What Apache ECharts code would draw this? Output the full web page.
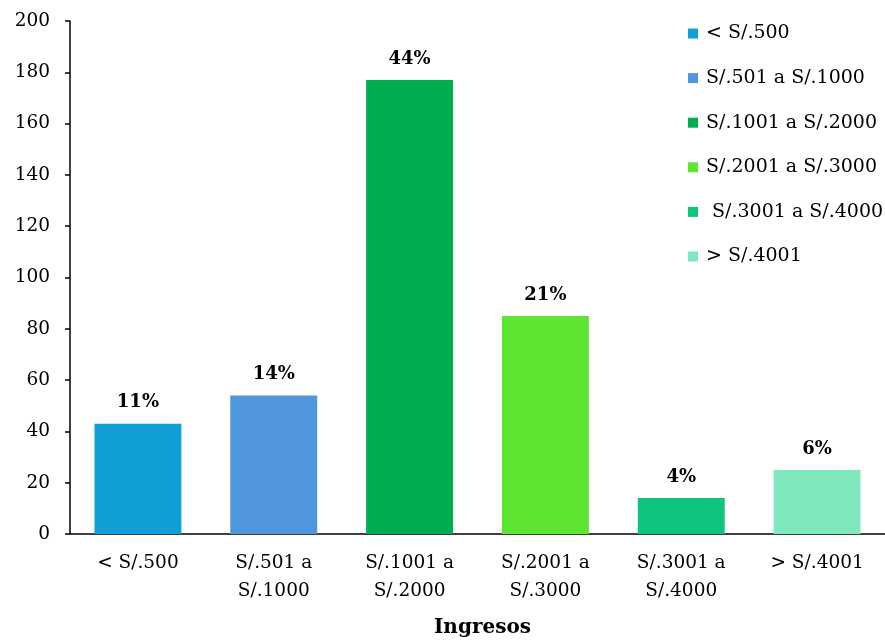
<!DOCTYPE html>
<html>
<head>
<meta charset="utf-8">
<script src="https://cdn.jsdelivr.net/npm/echarts@6/dist/echarts.min.js"></script>
<style>html,body{margin:0;padding:0;background:#fff;}#c{width:885px;height:641px;}</style>
</head>
<body>
<div id="c"></div>
<script>
var categories = ['< S/.500', 'S/.501 a\nS/.1000', 'S/.1001 a\nS/.2000', 'S/.2001 a\nS/.3000', 'S/.3001 a\nS/.4000', '> S/.4001'];
var legendNames = ['< S/.500', 'S/.501 a S/.1000', 'S/.1001 a S/.2000', 'S/.2001 a S/.3000', ' S/.3001 a S/.4000', '> S/.4001'];
var values = [43, 54, 177, 85, 14, 25];
var percentLabels = ['11%', '14%', '44%', '21%', '4%', '6%'];
var colors = ['#119FD8', '#4F96DB', '#00AE4F', '#5CE531', '#0EC47C', '#80E8BD'];
var yTicks = [0, 20, 40, 60, 80, 100, 120, 140, 160, 180, 200];

var FONT = '"DejaVu Serif", serif';
var series = legendNames.map(function (name, i) {
  var d = values.map(function (v, j) { return j === i ? v : '-'; });
  return {
    name: name,
    type: 'bar',
    stack: 'all',
    data: d,
    barWidth: '64%',
    itemStyle: { color: colors[i] },
    label: {
      show: true,
      position: 'top',
      distance: 12,
      fontFamily: FONT,
      fontWeight: 'bold',
      fontSize: 18,
      color: '#000',
      formatter: function () { return percentLabels[i]; }
    }
  };
});

var chart = echarts.init(document.getElementById('c'), null, { renderer: 'canvas' });
chart.setOption({
  animation: false,
  textStyle: { fontFamily: FONT },
  grid: { left: 70, right: 0, top: 21, bottom: 107, containLabel: false, outerBoundsMode: 'none' },
  legend: {
    orient: 'vertical',
    left: 688,
    top: 24,
    padding: 0,
    itemWidth: 10,
    itemHeight: 10,
    itemGap: 25.6,
    icon: 'rect',
    textStyle: { fontFamily: FONT, fontSize: 19, color: '#000', padding: [0, 0, 0, 3] },
    data: legendNames
  },
  xAxis: {
    type: 'category',
    data: categories,
    name: 'Ingresos',
    nameLocation: 'middle',
    nameGap: 84,
    nameTextStyle: { fontFamily: FONT, fontWeight: 'bold', fontSize: 20, color: '#000', padding: [0, 0, 0, 10] },
    axisLine: { lineStyle: { color: '#000', width: 1.5 } },
    axisTick: { show: true, alignWithLabel: true, inside: true, length: 5, lineStyle: { color: '#000', width: 1.5 } },
    axisLabel: { fontFamily: FONT, fontSize: 18.5, color: '#000', lineHeight: 28, margin: 15 }
  },
  yAxis: {
    type: 'value',
    min: yTicks[0],
    max: yTicks[yTicks.length - 1],
    interval: 20,
    axisLine: { show: true, lineStyle: { color: '#000', width: 1.5 } },
    axisTick: { show: true, length: 5, lineStyle: { color: '#000', width: 1.5 } },
    splitLine: { show: false },
    axisLabel: { fontFamily: FONT, fontSize: 18.5, color: '#000', margin: 20 }
  },
  series: series
});
</script>
</body>
</html>
